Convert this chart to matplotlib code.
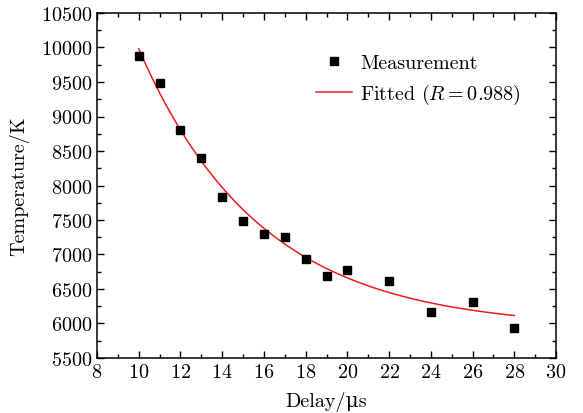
import numpy as np
import matplotlib
matplotlib.use("Agg")
import matplotlib.pyplot as plt
from matplotlib.ticker import MultipleLocator

plt.rcParams['font.family'] = ['cmr10', 'DejaVu Serif']
plt.rcParams['mathtext.fontset'] = 'cm'
plt.rcParams['axes.formatter.use_mathtext'] = True

# measured temperature vs delay
delay_us = [10, 11, 12, 13, 14, 15, 16, 17, 18, 19, 20, 22, 24, 26, 28]
temperature_k = [9880, 9490, 8810, 8400, 7840, 7480, 7300, 7260,
                 6940, 6690, 6780, 6620, 6170, 6310, 5940]

# exponential fit parameters (T = T0 + A*exp(-(t-10)/tau))
fit_t0 = 5930
fit_amp = 4050
fit_tau = 5.84

FS = 14.5

fig = plt.figure(figsize=(5.83, 4.14), dpi=100)
ax = fig.add_axes([97 / 583, 55 / 414, 459 / 583, 345 / 414])

ax.plot(delay_us, temperature_k, 's', color='black', markersize=6.2,
        label='Measurement', zorder=3)

t_fit = np.linspace(delay_us[0], delay_us[-1], 200)
T_fit = fit_t0 + fit_amp * np.exp(-(t_fit - delay_us[0]) / fit_tau)
ax.plot(t_fit, T_fit, '-', color='#ee1c1c', linewidth=1.1,
        label=r'Fitted ($R=0.988$)')

ax.set_xlim(8, 30)
ax.set_ylim(5500, 10500)
ax.xaxis.set_major_locator(MultipleLocator(2))
ax.xaxis.set_minor_locator(MultipleLocator(1))
ax.yaxis.set_major_locator(MultipleLocator(500))
ax.yaxis.set_minor_locator(MultipleLocator(250))
ax.tick_params(which='both', direction='in', top=True, right=True,
               labelsize=FS, width=1.0)
ax.tick_params(which='major', length=5)
ax.tick_params(which='minor', length=3)
for sp in ax.spines.values():
    sp.set_linewidth(1.1)

ax.set_xlabel('Delay/μs', fontsize=FS, labelpad=7)
ax.set_ylabel('Temperature/K', fontsize=FS, labelpad=8)

ax.legend(loc='upper right', bbox_to_anchor=(0.963, 0.934), frameon=False,
          fontsize=FS, handlelength=1.8, handletextpad=0.4,
          labelspacing=0.5)

fig.savefig('out.png', dpi=100)
